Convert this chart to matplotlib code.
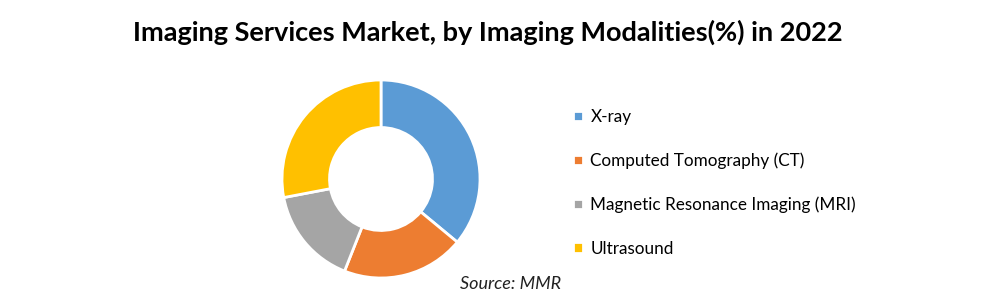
import matplotlib.pyplot as plt

# Imaging modality shares (%)
modalities = ["X-ray", "Computed Tomography (CT)",
              "Magnetic Resonance Imaging (MRI)", "Ultrasound"]
shares = [36, 20, 16, 28]
colors = ["#5b9bd5", "#ed7d31", "#a5a5a5", "#ffc000"]

plt.rcParams['font.family'] = ['Lato', 'DejaVu Sans']

fig = plt.figure(figsize=(9.91, 3.0), dpi=100)

# donut axes, centred around (381, 179) px
ax = fig.add_axes([(381 - 100) / 991, (300 - 179 - 100) / 300, 200 / 991, 200 / 300])
wedges, _ = ax.pie(shares, colors=colors, startangle=90, counterclock=False,
                   wedgeprops=dict(width=0.48, edgecolor="white", linewidth=2))
ax.set_xlim(-1.01, 1.01)
ax.set_ylim(-1.01, 1.01)
ax.set_aspect("equal")

fig.text(0.492, 0.893, "Imaging Services Market, by Imaging Modalities(%) in 2022",
         ha="center", va="center", fontsize=19.5, fontweight="bold")

fig.legend(wedges, modalities, loc="upper left", bbox_to_anchor=(558 / 991, 1 - 94 / 300),
           frameon=False, fontsize=12.3, handlelength=0.55, handleheight=0.55,
           handletextpad=0.45, labelspacing=1.6)

fig.text(460 / 991, 1 - 284 / 300, "Source: MMR", ha="left", va="center",
         fontsize=13, style="italic", color="#222222")

fig.savefig("out.png", dpi=100)
